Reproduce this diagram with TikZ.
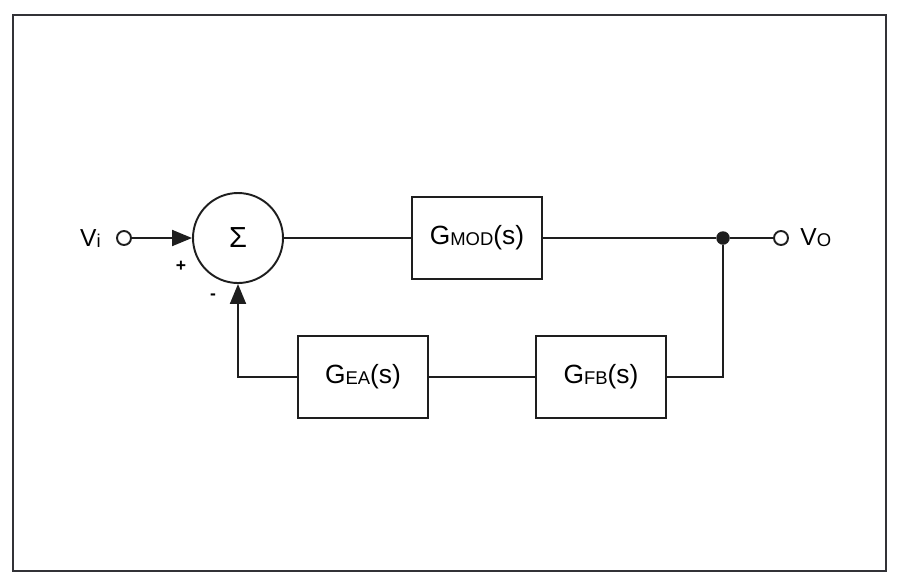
\documentclass[tikz,border=0pt]{standalone}
\usepackage{fontspec}
\setmainfont{Liberation Sans}
\usetikzlibrary{arrows.meta,positioning,calc}
\definecolor{ink}{RGB}{30,30,30}
\definecolor{rim}{RGB}{50,50,55}
\tikzset{
  >={Triangle[length=4mm,width=3.2mm]},
  block/.style={draw=ink,line width=1.1pt,minimum width=26mm,minimum height=16.3mm,
    font=\fontsize{15}{18}\selectfont,inner sep=0pt},
  summer/.style={circle,draw=ink,line width=1.1pt,minimum size=18mm,inner sep=0pt,
    font=\fontsize{16.5}{18}\selectfont},
  port/.style={circle,draw=ink,line width=1.1pt,fill=white,minimum size=2.8mm,inner sep=0pt},
  dot/.style={circle,fill=ink,minimum size=2.7mm,inner sep=0pt},
  wire/.style={draw=ink,line width=1.1pt},
  sign/.style={font=\fontsize{10}{12}\selectfont\bfseries,inner sep=0pt},
  lbl/.style={font=\fontsize{14}{16}\selectfont,inner sep=0pt},
}
\newcommand{\sub}[1]{{\fontsize{10.5}{12}\selectfont\raisebox{-0.6pt}{#1}}}
\begin{document}
\begin{tikzpicture}
    \useasboundingbox (0,0) rectangle (18,-11.68);
    \draw[rim,line width=1.4pt] (0.26,-0.30) rectangle (17.72,-11.42);
    % forward path
    \node[port] (vi) at (2.48,-4.76) {};
    \node[lbl,anchor=east] (vilbl) at (2.02,-4.78) {V\sub{i}};
    \node[summer] (sum) at (4.76,-4.76) {Σ};
    \node[block] (gmod) at (9.54,-4.76) {G\sub{MOD}(s)};
    \node[dot] (j) at (14.46,-4.76) {};
    \node[port] (vo) at (15.62,-4.76) {};
    \node[lbl,anchor=west] (volbl) at (16.0,-4.76) {V\sub{O}};
    \node[sign] (plus) at (3.62,-5.32) {+};
    \node[sign] (minus) at (4.26,-5.94) {-};
    % feedback path
    \node[block] (gea) at (7.26,-7.54) {G\sub{EA}(s)};
    \node[block] (gfb) at (12.02,-7.54) {G\sub{FB}(s)};
    \coordinate (cr) at (14.46,-7.54);
    \coordinate (cl) at (4.76,-7.54);
    \draw[wire,->] (vi) -- (sum);
    \draw[wire] (sum) -- (gmod) (gmod) -- (j) (j) -- (vo);
    \draw[wire] (j) -- (cr) -- (gfb) (gfb) -- (gea);
    \draw[wire,->] (gea) -- (cl) -- (sum);
  \end{tikzpicture}
\end{document}
